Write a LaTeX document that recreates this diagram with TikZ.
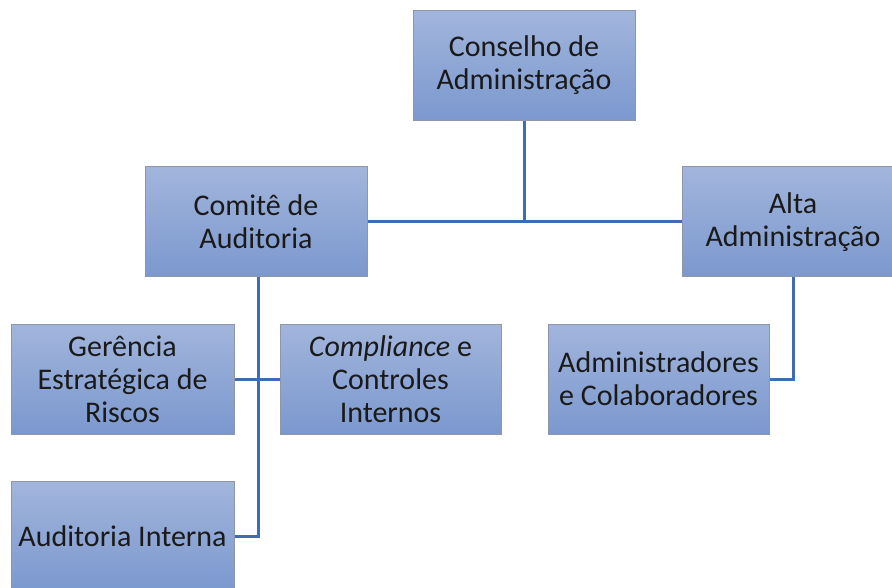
\documentclass[tikz,border=0pt]{standalone}
\usepackage{fontspec}
\setmainfont{Carlito}
\begin{document}
\begin{tikzpicture}[x=1pt,y=-1pt]
\definecolor{boxtop}{HTML}{A2B5DC}
\definecolor{boxbot}{HTML}{7B98CE}
\definecolor{boxline}{HTML}{8F96A8}
\definecolor{conn}{HTML}{3F6DB5}
\definecolor{txt}{HTML}{1A1A1A}
\tikzset{
  orgbox/.style={rectangle, minimum width=222pt, minimum height=110pt,
    top color=boxtop, bottom color=boxbot, draw=boxline, line width=1pt,
    align=center, text=txt, font=\fontsize{30}{33}\selectfont, inner sep=1pt},
  link/.style={draw=conn, line width=3pt}
}
\useasboundingbox (0,0) rectangle (892,588);
\clip (0,0) rectangle (892,588);
\node[orgbox] (cons) at (524,65.5) {Conselho de\\Administração};
\node[orgbox] (comite) at (256,222) {Comitê de\\Auditoria};
\node[orgbox] (alta) at (793,222) {Alta\\Administração};
\node[orgbox, minimum width=223pt] (ger) at (122.5,379) {Gerência\\Estratégica de\\Riscos};
\node[orgbox, minimum width=221pt] (comp) at (390.5,379) {\textit{Compliance} e\\Controles\\Internos};
\node[orgbox, minimum width=221pt] (adm) at (658.5,379) {Administradores\\e Colaboradores};
\node[orgbox, minimum width=223pt] (audi) at (122.5,536) {Auditoria Interna};
\coordinate (j1) at (524,222);
\draw[link] (cons.south) -- (j1);
\draw[link] (comite.east) -- (alta.west);
\draw[link] ([xshift=2pt]comite.south) |- (audi.east);
\draw[link] (ger.east) -- (comp.west);
\draw[link] (alta.south) |- (adm.east);
\end{tikzpicture}
\end{document}
